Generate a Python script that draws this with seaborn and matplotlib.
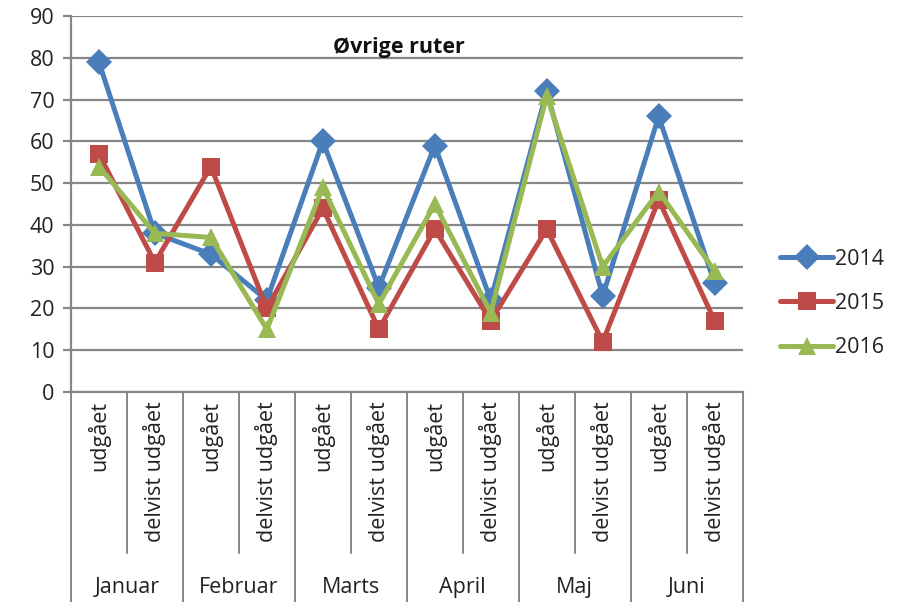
import numpy as np
import pandas as pd
import matplotlib
matplotlib.use('Agg')
import matplotlib.pyplot as plt
import matplotlib.transforms as mtransforms
import seaborn as sns

# data
months = ['Januar', 'Februar', 'Marts', 'April', 'Maj', 'Juni']
subcats = ['udgået', 'delvist udgået']
years = ['2014', '2015', '2016']
v2014 = [79, 38, 33, 22, 60, 25, 59, 22, 72, 23, 66, 26]
v2015 = [57, 31, 54, 20, 44, 15, 39, 17, 39, 12, 46, 17]
v2016 = [54, 38, 37, 15, 49, 21, 45, 19, 71, 30, 48, 29]

pos = list(range(len(months) * len(subcats)))
df = pd.DataFrame({
    'pos': pos * 3,
    'val': v2014 + v2015 + v2016,
    'year': [y for y in years for _ in pos],
})

sns.set_style('white')
plt.rcParams['font.family'] = ['Open Sans', 'DejaVu Sans']

fig = plt.figure(figsize=(8.98, 6.02), dpi=100)
ax = fig.add_axes([0.079, 0.349, 0.748, 0.624])

palette = {'2014': '#4a7ebb', '2015': '#be4b48', '2016': '#98b954'}
markers = {'2014': 'D', '2015': 's', '2016': '^'}
sns.lineplot(data=df, x='pos', y='val', hue='year', style='year',
             markers=markers, dashes=False, palette=palette,
             linewidth=3.6, markersize=13, markeredgewidth=0, ax=ax)

gcol = '#878787'
ax.set_xlim(-0.5, 11.5)
ax.set_ylim(0, 90)
ax.set_yticks(range(0, 91, 10))
ax.yaxis.grid(True, color=gcol, linewidth=1.6)
ax.set_axisbelow(True)
ax.tick_params(axis='y', labelsize=15.5, length=6, width=1.6, color=gcol, left=True, pad=6,
               labelcolor='#222222')
ax.set_xticks([])
ax.set_xlabel('')
ax.set_ylabel('')
for s in ['top', 'right']:
    ax.spines[s].set_visible(False)
for s in ['left', 'bottom']:
    ax.spines[s].set_color(gcol)
    ax.spines[s].set_linewidth(1.6)

# multi-level category axis
trans = mtransforms.blended_transform_factory(ax.transData, ax.transAxes)
for i in range(13):
    x = i - 0.5
    bottom = -0.559 if i % 2 == 0 else -0.428
    ax.plot([x, x], [0, bottom], transform=trans, color=gcol, lw=1.4, clip_on=False)
for i, p in enumerate(pos):
    ax.text(p, -0.025, subcats[i % 2], transform=trans, rotation=90,
            ha='center', va='top', fontsize=15.5, color='#222222')
for j, m in enumerate(months):
    ax.text(2 * j + 0.5, -0.52, m, transform=trans, ha='center', va='center',
            fontsize=15.5, color='#222222')

ax.text(0.488, 0.917, 'Øvrige ruter', transform=ax.transAxes, ha='center', va='center',
        fontsize=15.5, fontweight='bold', color='#111111')

leg = ax.legend(loc='center left', bbox_to_anchor=(0.869, 0.496), bbox_transform=fig.transFigure,
                frameon=False, fontsize=15.5, handlelength=2.45, labelspacing=1.08,
                handletextpad=0.1, borderaxespad=0, borderpad=0)
for t in leg.get_texts():
    t.set_color('#222222')

fig.savefig('out.png', dpi=100)
